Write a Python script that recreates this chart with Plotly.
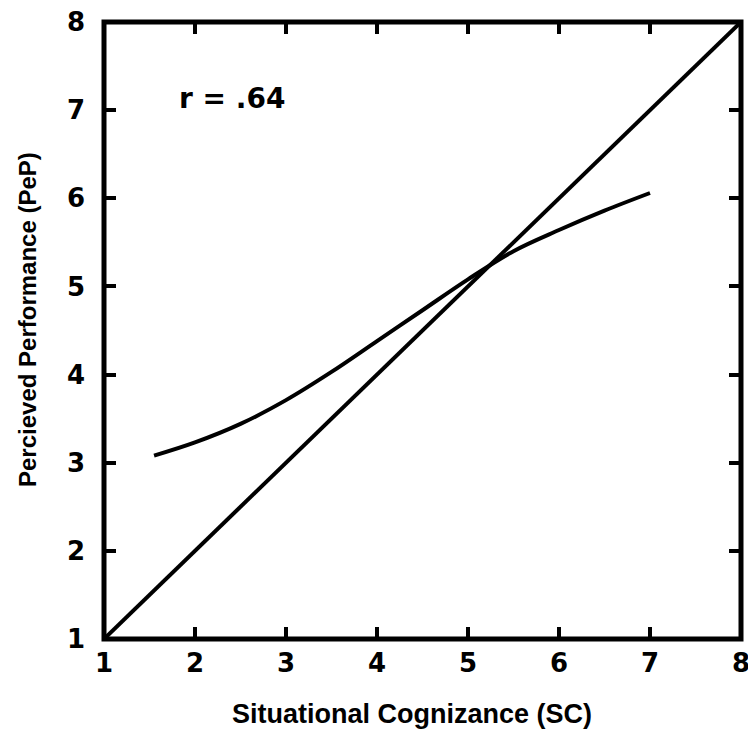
import plotly.graph_objects as go

# Data
curve_x = [1.55, 2.0, 2.5, 3.0, 3.5, 4.0, 4.5, 5.0, 5.5, 6.0, 6.5, 7.0]
curve_y = [3.08, 3.23, 3.44, 3.71, 4.03, 4.38, 4.73, 5.08, 5.40, 5.64, 5.86, 6.06]
diag_x = [1, 8]
diag_y = [1, 8]
tick_vals = [1, 2, 3, 4, 5, 6, 7, 8]
tick_text = ["1", "2", "3", "4", "5", "6", "7", "8"]
r_label = "r = .64"
x_title = "Situational Cognizance (SC)"
y_title = "Percieved Performance (PeP)"

W, H = 748, 735
ml, mr, mt, mb = 104, 7, 22, 96
pw, ph = W - ml - mr, H - mt - mb


def px_x(p):  # page pixel -> paper
    return (p - ml) / pw


def px_y(p):
    return (H - mb - p) / ph


fig = go.Figure()
fig.add_trace(go.Scatter(x=diag_x, y=diag_y, mode="lines",
                         line=dict(color="black", width=4), showlegend=False))
fig.add_trace(go.Scatter(x=curve_x, y=curve_y, mode="lines", line_shape="spline",
                         line=dict(color="black", width=4), showlegend=False))

tickfont = dict(family="DejaVu Sans", size=26, color="black")
axis_common = dict(
    tickmode="array", tickvals=tick_vals,
    ticktext=["<b>" + t + "</b>" for t in tick_text],
    ticks="inside", ticklen=12, tickwidth=4, tickcolor="black",
    showline=False, mirror="ticks",
    showgrid=False, zeroline=False, tickfont=tickfont, automargin=False,
    ticklabeloverflow="allow",
)
fig.update_xaxes(range=[1, 8], ticklabelstandoff=6, **axis_common)
fig.update_yaxes(range=[1, 8], ticklabelstandoff=18, **axis_common)

# frame centred on the plot-area edges
fig.add_shape(type="rect", xref="paper", yref="paper", x0=0, y0=0, x1=1, y1=1,
              line=dict(color="black", width=5), layer="above")

fig.add_annotation(x=2.41, y=7.13, xref="x", yref="y", text="<b>" + r_label + "</b>",
                   showarrow=False, xanchor="center", yanchor="middle",
                   font=dict(family="DejaVu Sans", size=28, color="black"))
fig.add_annotation(x=px_x(412), y=px_y(714), xref="paper", yref="paper",
                   text="<b>" + x_title + "</b>", showarrow=False,
                   xanchor="center", yanchor="middle",
                   font=dict(family="Liberation Sans", size=27, color="black"))
fig.add_annotation(x=px_x(27), y=px_y(320), xref="paper", yref="paper",
                   text="<b>" + y_title + "</b>", showarrow=False, textangle=-90,
                   xanchor="center", yanchor="middle",
                   font=dict(family="Liberation Sans", size=24, color="black"))

fig.update_layout(
    width=W, height=H,
    margin=dict(l=ml, r=mr, t=mt, b=mb, autoexpand=False),
    plot_bgcolor="white", paper_bgcolor="white",
)

fig.write_html(
    "out.html",
    config={"displayModeBar": False},
    post_script="document.body.style.margin='0';document.body.style.overflow='hidden';",
)
